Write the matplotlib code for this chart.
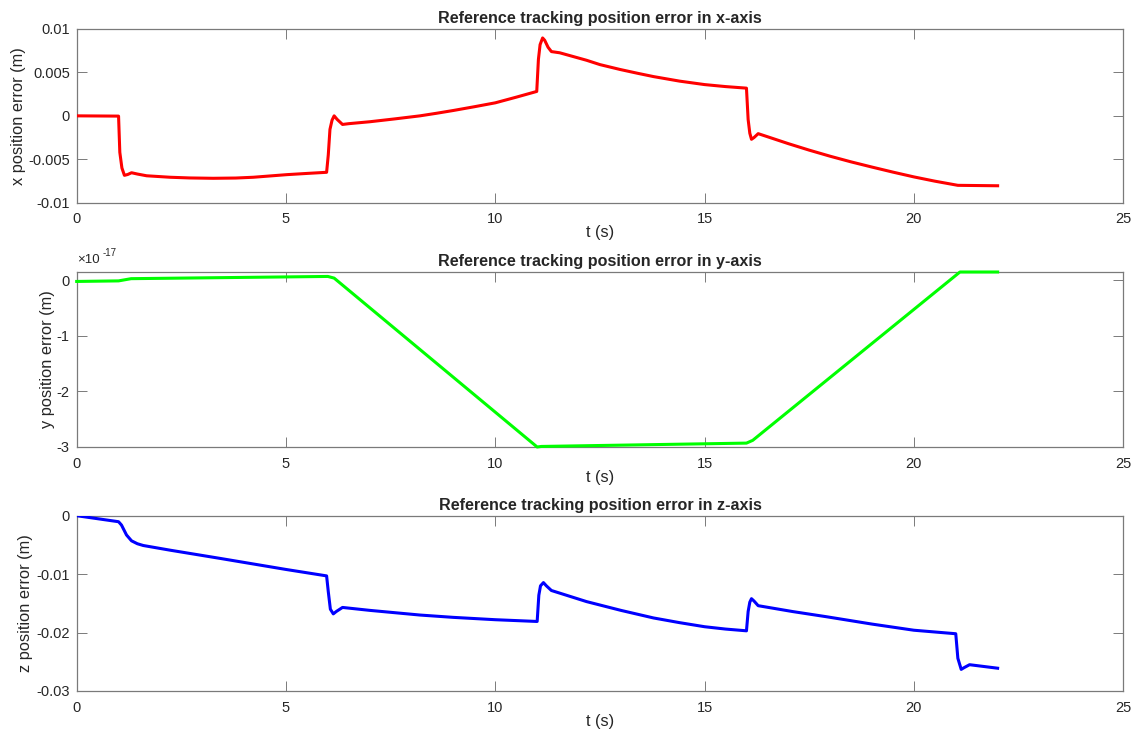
import numpy as np
import matplotlib
matplotlib.use("Agg")
import matplotlib.pyplot as plt

plt.rcParams['font.family'] = ['Liberation Sans', 'DejaVu Sans']
plt.rcParams['axes.unicode_minus'] = False

# ---- data -------------------------------------------------------------
# x-axis error (m)
t_x = [0, 1.0, 1.03, 1.08, 1.14, 1.22, 1.31, 1.45, 1.67, 2.23, 2.7, 3.26,
       3.8, 4.22, 5.02, 5.5, 5.97, 6.01, 6.05, 6.10, 6.15, 6.22, 6.35, 6.5,
       7.0, 7.6, 8.2, 8.6, 9.0, 9.5, 10.0, 10.5, 10.99, 11.03, 11.07, 11.13,
       11.18, 11.26, 11.34, 11.54, 12.18, 12.5, 12.98, 13.4, 13.78, 14.4,
       15.0, 15.5, 16.0, 16.04, 16.08, 16.12, 16.18, 16.28, 16.5, 17.0, 17.5,
       18.0, 18.5, 19.0, 19.5, 20.0, 20.5, 21.05, 22.0]
x_err = [0.0, -0.00003, -0.0042, -0.0060, -0.00685, -0.00675, -0.00655,
         -0.0067, -0.0069, -0.00707, -0.00715, -0.00719, -0.00716, -0.00707,
         -0.00677, -0.00663, -0.0065, -0.0045, -0.00156, -0.0005, 0.0,
         -0.0004, -0.00099, -0.0009, -0.00068, -0.00035, 0.0, 0.0003,
         0.00062, 0.00105, 0.0015, 0.00215, 0.00281, 0.0065, 0.0082, 0.00897,
         0.0087, 0.0079, 0.0074, 0.00726, 0.0064, 0.0059, 0.00534, 0.0049,
         0.00452, 0.0040, 0.0036, 0.00337, 0.00319, -0.00042, -0.0020,
         -0.0027, -0.0025, -0.00205, -0.0024, -0.0032, -0.00395, -0.00465,
         -0.0053, -0.0059, -0.00648, -0.00703, -0.00752, -0.0080, -0.00805]

# y-axis error (numerical noise, in units of 1e-17 m)
t_y = [0, 1.0, 1.3, 6.0, 6.15, 11.0, 11.1, 16.0, 16.15, 21.1, 22.0]
y_err_e17 = [-0.02, -0.01, 0.03, 0.07, 0.04, -3.0, -2.99, -2.93, -2.88,
             0.15, 0.15]

# z-axis error (m)
t_z = [0, 1.0, 1.07, 1.19, 1.31, 1.45, 1.59, 2.23, 3.42, 5.0, 5.97, 6.01,
       6.06, 6.13, 6.2, 6.35, 7.0, 8.2, 9.0, 10.0, 11.0, 11.04, 11.08,
       11.15, 11.22, 11.34, 12.18, 13.0, 13.78, 14.4, 15.0, 15.5, 16.0,
       16.04, 16.08, 16.12, 16.18, 16.28, 17.1, 17.92, 19.0, 20.0, 21.0,
       21.05, 21.13, 21.2, 21.33, 22.0]
z_err = [0.0, -0.00103, -0.0016, -0.0033, -0.0043, -0.0048, -0.0051,
         -0.0059, -0.0073, -0.0092, -0.0103, -0.0130, -0.0160, -0.0168,
         -0.0164, -0.0157, -0.0162, -0.0170, -0.0174, -0.0178, -0.0181,
         -0.0136, -0.0120, -0.01145, -0.0120, -0.0128, -0.0147, -0.0162,
         -0.0175, -0.0183, -0.0190, -0.0194, -0.0197, -0.0164, -0.0148,
         -0.0142, -0.0146, -0.0154, -0.0164, -0.0173, -0.01855, -0.0196,
         -0.0202, -0.0244, -0.0263, -0.0260, -0.0255, -0.0261]

x_ticks = [0, 5, 10, 15, 20, 25]
x_tick_labels = ['0', '5', '10', '15', '20', '25']
yx_ticks = [-0.01, -0.005, 0, 0.005, 0.01]
yx_tick_labels = ['-0.01', '-0.005', '0', '0.005', '0.01']
yy_ticks_e17 = [-3, -2, -1, 0]
yy_tick_labels = ['-3', '-2', '-1', '0']
yz_ticks = [-0.03, -0.02, -0.01, 0]
yz_tick_labels = ['-0.03', '-0.02', '-0.01', '0']

titles = ['Reference tracking position error in x-axis',
          'Reference tracking position error in y-axis',
          'Reference tracking position error in z-axis']
ylabels = ['x position error (m)', 'y position error (m)',
           'z position error (m)']

# ---- figure -----------------------------------------------------------
W, H = 1138, 735
fig = plt.figure(figsize=(W / 100, H / 100), dpi=100)
fig.patch.set_facecolor('white')

text_col = '#262626'
spine_col = '#7a7a7a'
left, width = 76.7 / W, 1046.5 / W
boxes = [(29, 202.7), (272, 447), (515.7, 691)]
ylabel_x = [-0.048, -0.0212, -0.0413]

axes = []
for top, bot in boxes:
    ax = fig.add_axes([left, 1 - bot / H, width, (bot - top) / H])
    axes.append(ax)

series = [
    (t_x, np.array(x_err), '#ff0000', yx_ticks, yx_tick_labels, (-0.01, 0.01)),
    (t_y, np.array(y_err_e17) * 1e-17, '#00ff00',
     [v * 1e-17 for v in yy_ticks_e17], yy_tick_labels, (-3e-17, 0.15e-17)),
    (t_z, np.array(z_err), '#0000ff', yz_ticks, yz_tick_labels, (-0.03, 0.0)),
]

for i, (ax, (tt, vv, col, yt, ytl, ylim)) in enumerate(zip(axes, series)):
    ax.plot(tt, vv, color=col, lw=2.2, solid_joinstyle='round',
            zorder=3, clip_on=(i != 1))
    ax.set_xlim(0, 25)
    ax.set_ylim(*ylim)
    ax.set_xticks(x_ticks)
    ax.set_xticklabels(x_tick_labels)
    ax.set_yticks(yt)
    ax.set_yticklabels(ytl)
    ax.tick_params(direction='in', length=7.2, width=0.7, colors=spine_col,
                   labelcolor=text_col, labelsize=10.5, top=True, right=True)
    ax.tick_params(axis='x', pad=7)
    ax.tick_params(axis='y', pad=5)
    for s in ax.spines.values():
        s.set_color(spine_col)
        s.set_linewidth(0.9)
    ax.set_title(titles[i], fontsize=11.6, fontweight='bold', color=text_col,
                 pad=4)
    ax.set_xlabel('t (s)', fontsize=11.8, color=text_col, labelpad=-0.7)
    ax.set_ylabel(ylabels[i], fontsize=11.8, color=text_col)
    ax.yaxis.set_label_coords(ylabel_x[i], 0.5)

# exponent marker for the y-axis panel
axes[1].annotate('×10', xy=(0.0, 1.0), xycoords='axes fraction',
                 xytext=(0, 4), textcoords='offset points',
                 ha='left', va='bottom', fontsize=9.5, color=text_col)
axes[1].annotate('-17', xy=(0.0, 1.0), xycoords='axes fraction',
                 xytext=(18.5, 10), textcoords='offset points',
                 ha='left', va='bottom', fontsize=7, color=text_col)

fig.savefig('out.png', dpi=100, facecolor='white')
